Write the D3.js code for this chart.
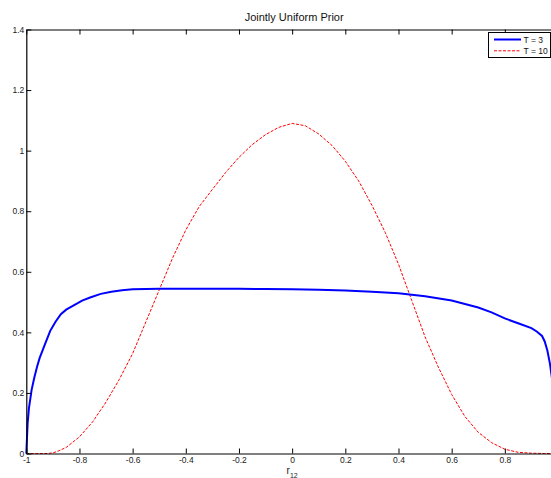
<!DOCTYPE html>
<html>
<head>
<meta charset="utf-8">
<script src="https://cdnjs.cloudflare.com/ajax/libs/d3/7.8.5/d3.min.js"></script>
<style>
  body { margin: 0; background: #fff; }
  #canvas { width: 551px; height: 478px; overflow: hidden; }
  text { font-family: "Liberation Sans", Arial, sans-serif; }
</style>
</head>
<body>
<div id="canvas"></div>
<script>
var title = 'Jointly Uniform Prior';
var seriesNames = ['T = 3', 'T = 10'];

// T = 3 (blue, solid)
var t3x = [-1, -0.995, -0.99, -0.98, -0.97, -0.96, -0.95, -0.93, -0.91, -0.89, -0.87, -0.85, -0.82, -0.79, -0.76, -0.72, -0.68, -0.64, -0.6, -0.5, -0.4, -0.3, -0.2, -0.1, 0, 0.1, 0.2, 0.3, 0.4, 0.5, 0.6, 0.7, 0.75, 0.8, 0.85, 0.9, 0.92, 0.94, 0.95, 0.96, 0.97, 0.98, 0.99, 1];
var t3y = [0, 0.1, 0.15, 0.21, 0.25, 0.285, 0.315, 0.36, 0.405, 0.435, 0.46, 0.475, 0.49, 0.505, 0.515, 0.527, 0.534, 0.539, 0.542, 0.544, 0.544, 0.544, 0.544, 0.543, 0.542, 0.541, 0.538, 0.534, 0.529, 0.519, 0.505, 0.482, 0.466, 0.446, 0.43, 0.414, 0.403, 0.388, 0.37, 0.34, 0.295, 0.23, 0.14, 0];

// T = 10 (red, dashed)
var t10x = [-1, -0.95, -0.92, -0.9, -0.88, -0.85, -0.8, -0.75, -0.7, -0.65, -0.6, -0.55, -0.5, -0.45, -0.4, -0.35, -0.3, -0.25, -0.2, -0.15, -0.1, -0.05, 0, 0.05, 0.1, 0.15, 0.2, 0.25, 0.3, 0.35, 0.4, 0.45, 0.5, 0.55, 0.6, 0.65, 0.7, 0.75, 0.8, 0.85, 0.9, 0.95, 1];
var t10y = [0, 0, 0, 0.002, 0.008, 0.02, 0.055, 0.105, 0.17, 0.245, 0.33, 0.435, 0.54, 0.645, 0.738, 0.815, 0.872, 0.928, 0.978, 1.02, 1.053, 1.077, 1.09, 1.082, 1.055, 1.017, 0.965, 0.9, 0.82, 0.73, 0.625, 0.505, 0.385, 0.285, 0.195, 0.122, 0.07, 0.036, 0.014, 0.004, 0.001, 0, 0];

var xTicks = [-1, -0.8, -0.6, -0.4, -0.2, 0, 0.2, 0.4, 0.6, 0.8];
var yTicks = [0, 0.2, 0.4, 0.6, 0.8, 1, 1.2, 1.4];

var plotLeft = 26.3, plotRight = 558, plotTop = 29.5, plotBottom = 453.5;

var svg = d3.select('#canvas').append('svg')
  .attr('width', 551)
  .attr('height', 478);

var x = d3.scaleLinear().domain([-1, 1]).range([plotLeft, plotRight]);
var y = d3.scaleLinear().domain([0, 1.4]).range([plotBottom, plotTop]);

var fmt = function(d) { return String(d); };

var line = d3.line()
  .x(function(d) { return x(d[0]); })
  .y(function(d) { return y(d[1]); });

svg.append('path')
  .datum(d3.zip(t10x, t10y))
  .attr('d', line)
  .attr('fill', 'none')
  .attr('stroke', '#ff0000')
  .attr('stroke-width', 1)
  .attr('stroke-dasharray', '3,1.5');

svg.append('path')
  .datum(d3.zip(t3x, t3y))
  .attr('d', line)
  .attr('fill', 'none')
  .attr('stroke', '#0000ff')
  .attr('stroke-width', 2);

// axes, ticks pointing inward like MATLAB
var axisStyle = function(g) {
  g.selectAll('.domain').attr('stroke', '#000').attr('stroke-width', 1.2);
  g.selectAll('.tick line').attr('stroke', '#000');
  g.selectAll('.tick text').attr('fill', '#222').attr('font-size', '8.5px')
    .attr('font-family', '"Liberation Sans", Arial, sans-serif');
};

svg.append('g')
  .attr('transform', 'translate(0,' + plotBottom + ')')
  .call(d3.axisBottom(x).tickValues(xTicks).tickFormat(fmt).tickSizeInner(-5).tickSizeOuter(0).tickPadding(3))
  .call(axisStyle);

svg.append('g')
  .attr('transform', 'translate(0,' + plotTop + ')')
  .call(d3.axisTop(x).tickValues(xTicks).tickFormat('').tickSizeInner(-5).tickSizeOuter(0))
  .call(axisStyle);

svg.append('g')
  .attr('transform', 'translate(' + plotLeft + ',0)')
  .call(d3.axisLeft(y).tickValues(yTicks).tickFormat(fmt).tickSizeInner(-5).tickSizeOuter(0).tickPadding(2))
  .call(axisStyle);

// title
svg.append('text')
  .attr('x', (plotLeft + plotRight) / 2 + 2)
  .attr('y', 21)
  .attr('text-anchor', 'middle')
  .attr('font-size', '11px')
  .attr('fill', '#111')
  .text(title);

// x label r_12
var xl = svg.append('text')
  .attr('x', x(0))
  .attr('y', 474)
  .attr('text-anchor', 'middle')
  .attr('font-size', '10px')
  .attr('fill', '#222');
xl.append('tspan').text('r');
xl.append('tspan').attr('font-size', '7px').attr('dy', 4).text('12');

// legend
var lg = svg.append('g');
lg.append('rect')
  .attr('x', 488.5).attr('y', 32.5)
  .attr('width', 62).attr('height', 25)
  .attr('fill', '#fff').attr('stroke', '#000').attr('stroke-width', 1);

var legendColors = ['#0000ff', '#ff0000'];
seriesNames.forEach(function(name, i) {
  var ly = 39.5 + i * 11.3;
  lg.append('line')
    .attr('x1', 494).attr('x2', 521)
    .attr('y1', ly).attr('y2', ly)
    .attr('stroke', legendColors[i])
    .attr('stroke-width', i === 0 ? 2 : 1)
    .attr('stroke-dasharray', i === 0 ? null : '3,1.5');
  lg.append('text')
    .attr('x', 523.5).attr('y', ly + 3)
    .attr('font-size', '8.5px')
    .attr('fill', '#111')
    .text(name);
});
</script>
</body>
</html>
